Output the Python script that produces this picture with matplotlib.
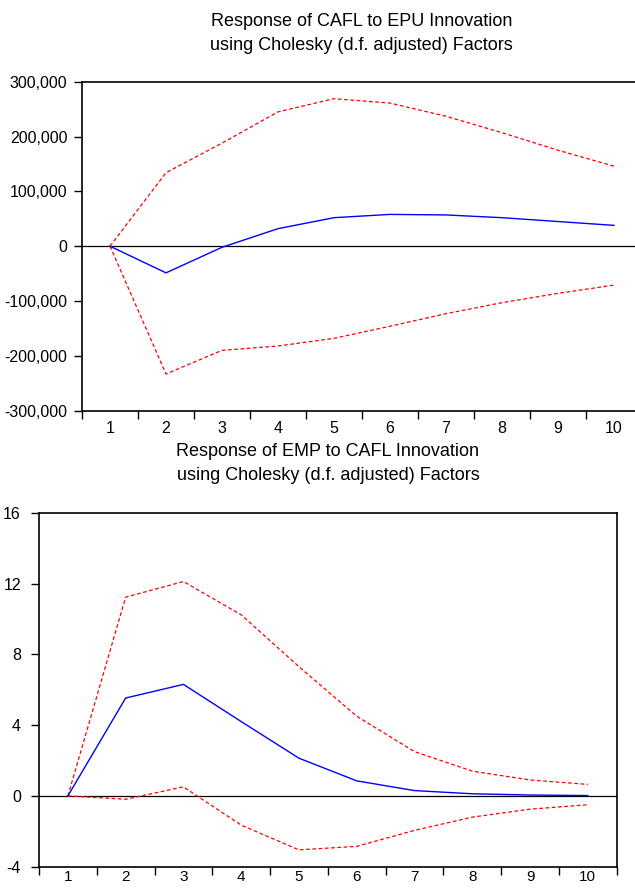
import matplotlib
matplotlib.use("Agg")
import matplotlib.pyplot as plt
from matplotlib.ticker import FuncFormatter

plt.rcParams['font.family'] = ['Liberation Sans', 'DejaVu Sans']

periods = [1, 2, 3, 4, 5, 6, 7, 8, 9, 10]

# Top panel: Response of CAFL to EPU
cafl_mean = [0, -48600, -2000, 32000, 52000, 58000, 57000, 52000, 45000, 38000]
cafl_upper = [0, 134000, 188000, 245000, 269000, 261000, 237000, 207000, 175000, 146000]
cafl_lower = [0, -233000, -190000, -182000, -168000, -146000, -123000, -103000, -86000, -71000]
top_yticks = [-300000, -200000, -100000, 0, 100000, 200000, 300000]
top_title = ["Response of CAFL to EPU Innovation", "using Cholesky (d.f. adjusted) Factors"]

# Bottom panel: Response of EMP to CAFL
emp_mean = [0, 5.53, 6.30, 4.2, 2.13, 0.85, 0.3, 0.12, 0.05, 0.02]
emp_upper = [0, 11.23, 12.11, 10.23, 7.3, 4.5, 2.5, 1.4, 0.9, 0.65]
emp_lower = [0, -0.19, 0.51, -1.65, -3.05, -2.85, -1.95, -1.2, -0.75, -0.5]
bot_yticks = [-4, 0, 4, 8, 12, 16]
bot_title = ["Response of EMP to CAFL Innovation", "using Cholesky (d.f. adjusted) Factors"]

W, H = 635, 890
fig = plt.figure(figsize=(W / 100, H / 100), dpi=100)

def px_axes(x0, y0, x1, y1):
    return fig.add_axes([x0 / W, 1 - y1 / H, (x1 - x0) / W, (y1 - y0) / H])

def style(ax, yticks, fmt, xpad, ypad, xsize):
    ax.set_xlim(0.5, 10.5)
    ax.set_ylim(yticks[0], yticks[-1])
    ax.set_yticks(yticks)
    ax.yaxis.set_major_formatter(FuncFormatter(fmt))
    ax.set_xticks(periods)
    ax.set_xticklabels([str(p) for p in periods])
    ax.set_xticks([p + 0.5 for p in range(0, 11)], minor=True)
    ax.tick_params(axis='x', which='major', length=0, pad=xpad, labelsize=xsize)
    ax.tick_params(axis='x', which='minor', length=6, width=1, direction='out')
    ax.tick_params(axis='y', length=6, width=1, direction='out', labelsize=11.5, pad=ypad)
    for s in ax.spines.values():
        s.set_linewidth(1.2)
    ax.axhline(0, color='black', lw=0.9, zorder=1)

ax1 = px_axes(82, 81.7, 642, 410.7)
ax1.plot(periods, cafl_upper, color='red', ls=(0, (3, 2)), lw=0.9)
ax1.plot(periods, cafl_lower, color='red', ls=(0, (3, 2)), lw=0.9)
ax1.plot(periods, cafl_mean, color='blue', lw=1.0)
style(ax1, top_yticks, lambda v, p: f"{int(v):,}", 7.5, 4.5, 11.5)
ax1.spines['right'].set_visible(False)

ax2 = px_axes(39, 512.7, 616.7, 866.7)
ax2.plot(periods, emp_upper, color='red', ls=(0, (3, 2)), lw=0.9)
ax2.plot(periods, emp_lower, color='red', ls=(0, (3, 2)), lw=0.9)
ax2.plot(periods, emp_mean, color='blue', lw=1.0)
style(ax2, bot_yticks, lambda v, p: f"{int(v)}", 2.5, 7, 11)

fig.text(361.5 / W, 1 - 22 / H, top_title[0], ha='center', va='center', fontsize=13)
fig.text(361.5 / W, 1 - 46 / H, top_title[1], ha='center', va='center', fontsize=13)
fig.text(328 / W, 1 - 452 / H, bot_title[0], ha='center', va='center', fontsize=13)
fig.text(328 / W, 1 - 475 / H, bot_title[1], ha='center', va='center', fontsize=13)

fig.savefig("out.png", dpi=100)
